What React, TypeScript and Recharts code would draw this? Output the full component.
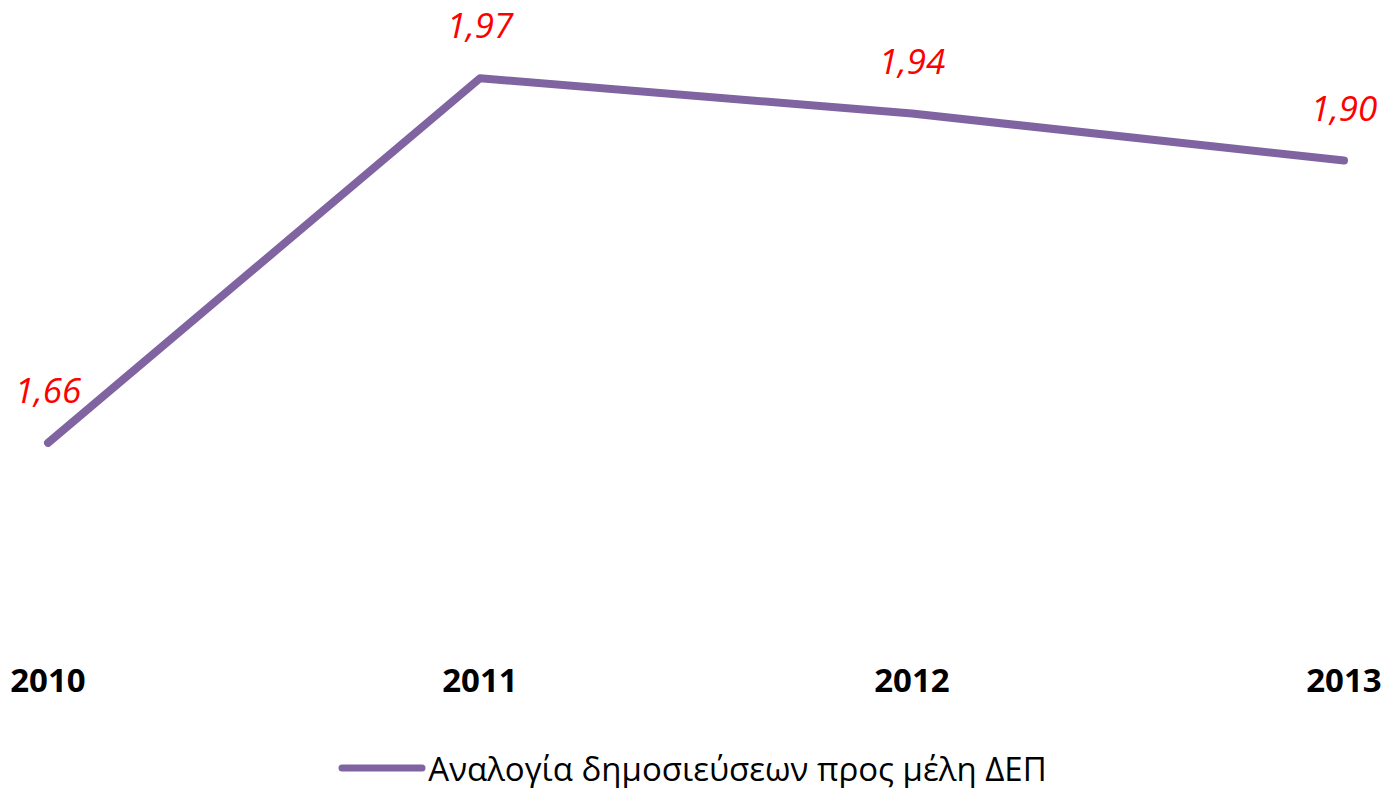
import React from "react";
import { LineChart, Line, XAxis, YAxis, LabelList, Legend } from "recharts";

const years = ["2010", "2011", "2012", "2013"];
const ratios = [1.66, 1.97, 1.94, 1.9];
const seriesName = "Αναλογία δημοσιεύσεων προς μέλη ΔΕΠ";

const data = years.map((y, i) => ({ year: y, value: ratios[i] }));

const FONT = "'Open Sans', 'Noto Sans', sans-serif";
const PURPLE = "#8064A2";

const renderLegend = () => (
  <div style={{ display: "flex", alignItems: "center", justifyContent: "center", fontFamily: FONT, height: 40 }}>
    <svg width={88} height={12} style={{ marginRight: 2 }}>
      <line x1={4} y1={6} x2={84} y2={6} stroke={PURPLE} strokeWidth={7} strokeLinecap="round" />
    </svg>
    <span style={{ fontSize: 33, color: "#000", whiteSpace: "nowrap" }}>{seriesName}</span>
  </div>
);

export default function App() {
  return (
    <div style={{ position: "absolute", left: 0, top: 0, background: "#fff" }}>
      <LineChart width={1385} height={788} data={data} margin={{ top: 43, right: 41, left: 48, bottom: 87 }}>
        <XAxis
          dataKey="year"
          axisLine={false}
          tickLine={false}
          tickMargin={32}
          tick={{ fill: "#000", fontSize: 33, fontWeight: 700, fontFamily: FONT }}
          interval={0}
        />
        <YAxis hide domain={[1.5, 2.0]} />
        <Legend
          content={renderLegend}
          height={40}
          wrapperStyle={{ top: 748, left: 0, width: 1385, height: 40 }}
        />
        <Line
          type="linear"
          dataKey="value"
          name={seriesName}
          stroke={PURPLE}
          strokeWidth={8}
          strokeLinecap="round"
          strokeLinejoin="round"
          dot={false}
          isAnimationActive={false}
        >
          <LabelList
            dataKey="value"
            position="top"
            offset={40}
            formatter={(v: number) => v.toFixed(2).replace(".", ",")}
            style={{ fill: "#FF0000", fontSize: 35, fontStyle: "italic", fontFamily: FONT }}
          />
        </Line>
      </LineChart>
    </div>
  );
}
